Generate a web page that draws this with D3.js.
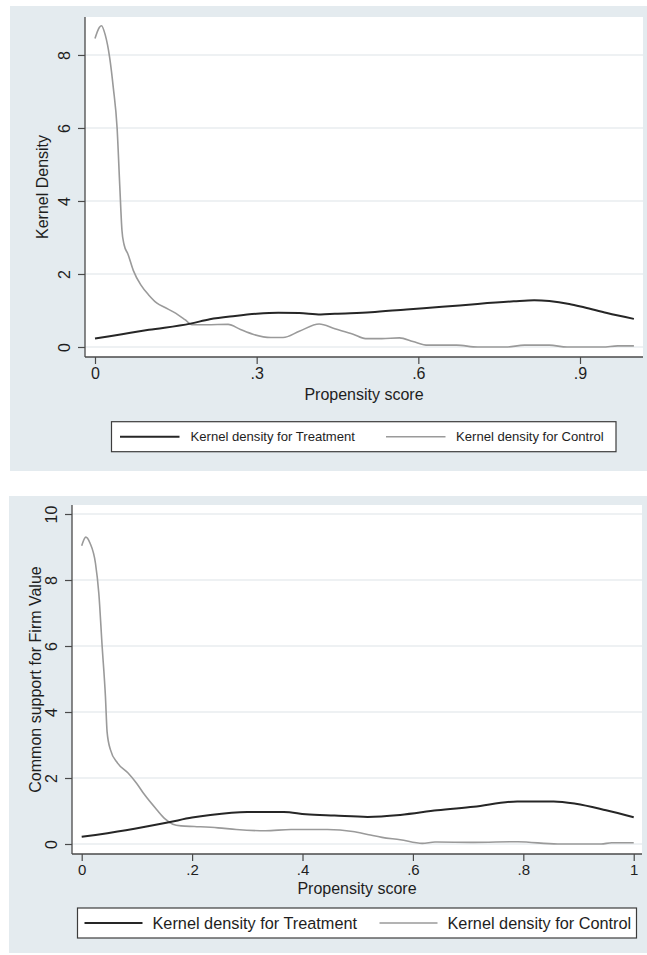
<!DOCTYPE html>
<html>
<head>
<meta charset="utf-8">
<script src="https://cdn.jsdelivr.net/npm/d3@7"></script>
<style>
  html, body { margin: 0; padding: 0; background: #ffffff; }
  svg { display: block; }
  text { font-family: "Liberation Sans", Arial, Helvetica, sans-serif; fill: #1e1e1e; }
</style>
</head>
<body>
<svg id="chart" width="647" height="955"></svg>
<script>
// ---- Data: kernel density estimates of the propensity score ----
// Panel 1 (Kernel Density)
const p1Treatment = [
  [0, 0.23], [0.05, 0.35], [0.1, 0.47], [0.177, 0.64], [0.213, 0.76], [0.26, 0.85],
  [0.3, 0.91], [0.34, 0.94], [0.379, 0.93], [0.419, 0.89], [0.445, 0.91], [0.512, 0.95],
  [0.578, 1.03], [0.644, 1.1], [0.71, 1.18], [0.777, 1.25], [0.815, 1.28], [0.843, 1.26],
  [0.88, 1.18], [0.909, 1.08], [0.95, 0.93], [1.0, 0.77]
];
const p1Control = [
  [0, 8.45], [0.008, 8.75], [0.012, 8.8], [0.019, 8.55], [0.027, 7.95], [0.034, 7.1],
  [0.041, 6.0], [0.046, 4.4], [0.05, 3.2], [0.054, 2.8], [0.061, 2.55], [0.071, 2.1],
  [0.085, 1.7], [0.1, 1.42], [0.115, 1.2], [0.13, 1.08], [0.147, 0.95], [0.167, 0.75],
  [0.18, 0.61], [0.207, 0.61], [0.247, 0.62], [0.27, 0.48], [0.293, 0.35], [0.326, 0.26],
  [0.349, 0.26], [0.379, 0.43], [0.416, 0.63], [0.445, 0.5], [0.479, 0.35], [0.502, 0.23],
  [0.532, 0.23], [0.565, 0.25], [0.59, 0.15], [0.618, 0.05], [0.671, 0.05], [0.71, 0],
  [0.763, 0], [0.797, 0.05], [0.843, 0.05], [0.876, 0], [0.942, 0], [0.97, 0.03], [1.0, 0.03]
];
const p1XTicks = [0, 0.3, 0.6, 0.9];
const p1XTickLabels = ["0", ".3", ".6", ".9"];
const p1YTicks = [0, 2, 4, 6, 8];
const p1YTitle = "Kernel Density";

// Panel 2 (Common support for Firm Value)
const p2Treatment = [
  [0, 0.22], [0.08, 0.42], [0.158, 0.66], [0.2, 0.8], [0.233, 0.88], [0.3, 0.97],
  [0.366, 0.97], [0.406, 0.9], [0.458, 0.86], [0.518, 0.82], [0.577, 0.88], [0.644, 1.02],
  [0.71, 1.13], [0.789, 1.29], [0.855, 1.29], [0.895, 1.22], [0.95, 1.02], [1.0, 0.81]
];
const p2Control = [
  [0, 9.04], [0.0075, 9.3], [0.015, 9.12], [0.025, 8.5], [0.031, 7.6], [0.037, 6.0],
  [0.043, 4.47], [0.046, 3.4], [0.052, 2.86], [0.065, 2.45], [0.084, 2.15], [0.099, 1.85],
  [0.114, 1.49], [0.136, 1.04], [0.151, 0.76], [0.165, 0.6], [0.18, 0.55], [0.204, 0.53],
  [0.247, 0.49], [0.28, 0.44], [0.333, 0.4], [0.379, 0.44], [0.445, 0.44], [0.491, 0.38],
  [0.52, 0.28], [0.544, 0.2], [0.577, 0.13], [0.617, 0.02], [0.64, 0.06], [0.71, 0.05],
  [0.79, 0.07], [0.862, 0], [0.941, 0], [0.96, 0.04], [1.0, 0.04]
];
const p2XTicks = [0, 0.2, 0.4, 0.6, 0.8, 1];
const p2XTickLabels = ["0", ".2", ".4", ".6", ".8", "1"];
const p2YTicks = [0, 2, 4, 6, 8, 10];
const p2YTitle = "Common support for Firm Value";

const xTitle = "Propensity score";
const legendLabels = ["Kernel density for Treatment", "Kernel density for Control"];

// ---- Styling ----
const BG = "#e4ebef";
const AXIS = "#4a4a4a";
const GRID = "#e9edef";
const TREAT_COLOR = "#262626";
const CONTROL_COLOR = "#9a9a9a";

const svg = d3.select("#chart");

// Layout for each graph panel
const panels = [
  {
    treatment: p1Treatment, control: p1Control,
    xTicks: p1XTicks, xLabels: p1XTickLabels, yTicks: p1YTicks, yTitle: p1YTitle,
    bg: { x: 10, y: 6, w: 640, h: 465 },
    plot: { left: 85, right: 643, top: 17, bottom: 357 },
    xDomain: [-0.01856, 1.0169], yDomain: [-0.274, 9.04],
    xTickFont: 16, yTickFont: 16, titleFont: 16,
    xLabelDy: 22, xTitleDy: 43, yLabelDx: 15, yTitleX: 48,
    legend: { x0: 111.5, x1: 616, y0: 421.7, y1: 451.7, font: 13.1,
              items: [{ l0: 120, l1: 179.5, t: 190.5 }, { l0: 386, l1: 445.5, t: 456 }] }
  },
  {
    treatment: p2Treatment, control: p2Control,
    xTicks: p2XTicks, xLabels: p2XTickLabels, yTicks: p2YTicks, yTitle: p2YTitle,
    bg: { x: 9, y: 496, w: 641, h: 457 },
    plot: { left: 72, right: 642, top: 505, bottom: 854 },
    xDomain: [-0.01757, 1.0150], yDomain: [-0.303, 10.273],
    xTickFont: 15, yTickFont: 16, titleFont: 16,
    xLabelDy: 21, xTitleDy: 40, yLabelDx: 15, yTitleX: 41,
    legend: { x0: 77.5, x1: 636.5, y0: 908, y1: 938, font: 16.3,
              items: [{ l0: 84.5, l1: 142.5, t: 152.5 }, { l0: 379.5, l1: 437.5, t: 447.5 }] }
  }
];

panels.forEach(p => {
  const g = svg.append("g");
  const { left, right, top, bottom } = p.plot;

  const x = d3.scaleLinear().domain(p.xDomain).range([left, right]);
  const y = d3.scaleLinear().domain(p.yDomain).range([bottom, top]);

  // Graph region background and white plot region
  g.append("rect").attr("x", p.bg.x).attr("y", p.bg.y)
    .attr("width", p.bg.w).attr("height", p.bg.h).attr("fill", BG);
  g.append("rect").attr("x", left).attr("y", top)
    .attr("width", right - left).attr("height", bottom - top).attr("fill", "#ffffff");

  // Horizontal grid lines
  g.append("g").selectAll("line").data(p.yTicks).join("line")
    .attr("x1", left).attr("x2", right)
    .attr("y1", d => y(d)).attr("y2", d => y(d))
    .attr("stroke", GRID).attr("stroke-width", 1.6);

  // Y axis (Stata style: vertical tick labels)
  const yAxis = d3.axisLeft(y).tickValues(p.yTicks).tickSize(7).tickFormat(d3.format("d")).tickPadding(0);
  const ya = g.append("g").attr("transform", `translate(${left},0)`).call(yAxis);
  ya.select(".domain").attr("stroke", AXIS).attr("stroke-width", 1.3)
    .attr("d", `M0,${top}V${bottom}`);
  ya.selectAll(".tick line").attr("stroke", AXIS).attr("stroke-width", 1.2);
  ya.selectAll(".tick text")
    .attr("x", null).attr("dy", null)
    .attr("text-anchor", "middle")
    .attr("transform", `translate(${-p.yLabelDx},0) rotate(-90)`)
    .attr("font-size", p.yTickFont).attr("fill", "#1e1e1e")
    .attr("font-family", "Liberation Sans, Arial, sans-serif");

  // X axis
  const xAxis = d3.axisBottom(x).tickValues(p.xTicks).tickSize(7)
    .tickFormat((d, i) => p.xLabels[i]).tickPadding(0);
  const xa = g.append("g").attr("transform", `translate(0,${bottom})`).call(xAxis);
  xa.select(".domain").attr("stroke", AXIS).attr("stroke-width", 1.3)
    .attr("d", `M${left},0H${right}`);
  xa.selectAll(".tick line").attr("stroke", AXIS).attr("stroke-width", 1.2);
  xa.selectAll(".tick text")
    .attr("y", p.xLabelDy).attr("dy", null)
    .attr("font-size", p.xTickFont).attr("fill", "#1e1e1e")
    .attr("font-family", "Liberation Sans, Arial, sans-serif");

  // Axis titles
  g.append("text").attr("x", (left + right) / 2).attr("y", bottom + p.xTitleDy)
    .attr("text-anchor", "middle").attr("font-size", p.titleFont).text(xTitle);
  g.append("text")
    .attr("transform", `translate(${p.yTitleX},${(top + bottom) / 2}) rotate(-90)`)
    .attr("text-anchor", "middle").attr("font-size", p.titleFont).text(p.yTitle);

  // Density curves
  const line = d3.line().x(d => x(d[0])).y(d => y(d[1])).curve(d3.curveMonotoneX);
  g.append("path").datum(p.control).attr("d", line)
    .attr("fill", "none").attr("stroke", CONTROL_COLOR).attr("stroke-width", 1.6)
    .attr("stroke-linejoin", "round");
  g.append("path").datum(p.treatment).attr("d", line)
    .attr("fill", "none").attr("stroke", TREAT_COLOR).attr("stroke-width", 2)
    .attr("stroke-linejoin", "round");

  // Legend
  const L = p.legend;
  const lg = g.append("g");
  lg.append("rect").attr("x", L.x0).attr("y", L.y0)
    .attr("width", L.x1 - L.x0).attr("height", L.y1 - L.y0)
    .attr("fill", "#ffffff").attr("stroke", "#3c3c3c").attr("stroke-width", 1.2);
  const ly = (L.y0 + L.y1) / 2;
  const colors = [TREAT_COLOR, CONTROL_COLOR];
  const widths = [2, 1.6];
  L.items.forEach((it, i) => {
    lg.append("line").attr("x1", it.l0).attr("x2", it.l1).attr("y1", ly).attr("y2", ly)
      .attr("stroke", colors[i]).attr("stroke-width", widths[i]);
    lg.append("text").attr("x", it.t).attr("y", ly).attr("dy", "0.35em")
      .attr("font-size", L.font).text(legendLabels[i]);
  });
});
</script>
</body>
</html>
